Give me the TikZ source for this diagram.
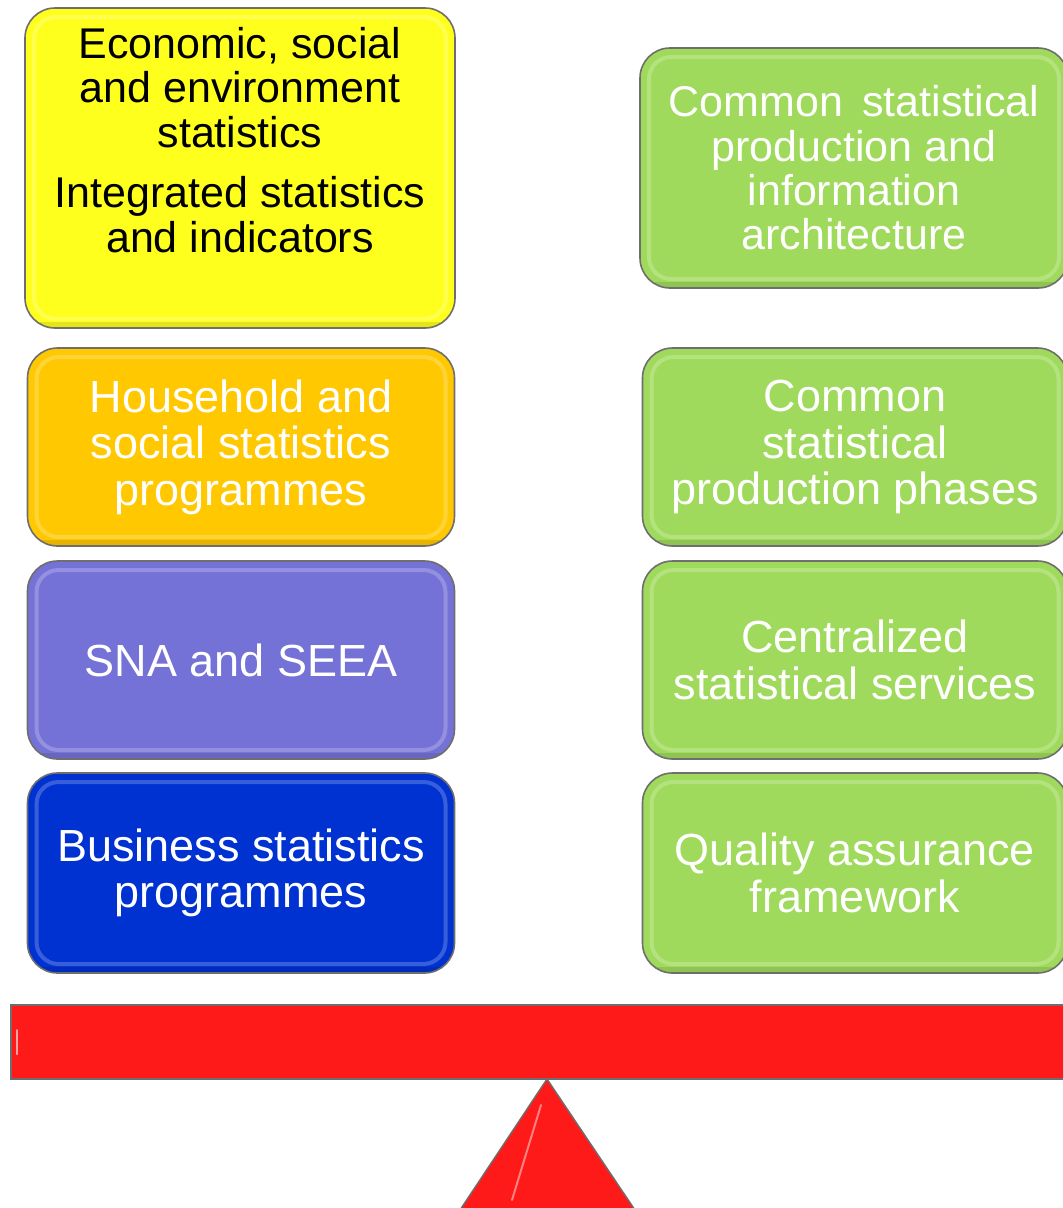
\documentclass[tikz,border=0pt]{standalone}
\usepackage{fontspec}
\setmainfont{Liberation Sans}
\definecolor{cyellow}{RGB}{255,255,30}
\definecolor{corange}{RGB}{255,200,0}
\definecolor{cpurple}{RGB}{116,114,214}
\definecolor{cblue}{RGB}{0,50,210}
\definecolor{cgreen}{RGB}{160,218,92}
\definecolor{cred}{RGB}{255,26,26}
\definecolor{cedge}{RGB}{110,110,110}
\tikzset{
  bevel/.style={path picture={
      \draw[white, opacity=0.22, line width=4pt, rounded corners=22pt]
        ([shift={(9pt,-9pt)}]path picture bounding box.north west) rectangle
        ([shift={(-9pt,9pt)}]path picture bounding box.south east);
      \draw[black, opacity=0.10, line width=5pt]
        ([shift={(0pt,4pt)}]path picture bounding box.south west) --
        ([shift={(0pt,4pt)}]path picture bounding box.south east);
  }},
  blockbox/.style={rectangle, rounded corners=30pt, draw=cedge, line width=1.6pt,
    align=center, inner sep=0pt, bevel,
    font=\fontsize{45}{46.5}\selectfont},
  lefttile/.style={blockbox, minimum width=427pt, minimum height=198pt},
  righttile/.style={blockbox, fill=cgreen, text=white, minimum width=425pt, minimum height=198pt},
  smalltext/.style={font=\fontsize{43}{44.4}\selectfont},
  bigtext/.style={align=center, inner sep=0pt, smalltext}
}
\begin{document}
\begin{tikzpicture}[x=1pt,y=-1pt]
\useasboundingbox (0,0) rectangle (1063,1208);
\fill[white] (0,0) rectangle (1063,1208);

% left column
\node[blockbox, fill=cyellow, minimum width=430pt, minimum height=320pt] (yel) at (240,168) {};
\node[bigtext, text=black] (yeltext) at (240,140)
  {Economic, social\\and environment\\statistics\\[16pt]Integrated statistics\\and indicators};
\node[lefttile, fill=corange, text=white] (hh) at (241,447)
  {Household and\\social statistics\\programmes};
\node[lefttile, fill=cpurple, text=white] (sna) at (241,660) {SNA and SEEA};
\node[lefttile, fill=cblue, text=white, minimum height=200pt] (bus) at (241,873)
  {Business statistics\\programmes};

% right column
\node[righttile, smalltext, minimum width=428pt, minimum height=240pt] (arch) at (854,168)
  {Common\ \,statistical\\production and\\information\\architecture};
\node[righttile] (phases) at (855,447)
  {Common\\statistical\\production phases};
\node[righttile] (serv) at (855,660)
  {Centralized\\statistical services};
\node[righttile, minimum height=200pt] (qaf) at (855,873)
  {Quality assurance\\framework};

% balance beam
\node[rectangle, fill=cred, draw=cedge, line width=1.6pt, minimum width=1070pt,
      minimum height=74pt, inner sep=0pt, anchor=west] (beam) at (10,1042) {};
\draw[white, opacity=0.6, line width=2pt, line cap=round] (beam.west) ++(7pt,-12pt) -- ++(0pt,24pt);

% fulcrum
\coordinate (apex) at (547,1079);
\coordinate (bl) at (460,1210);
\coordinate (br) at (635,1210);
\draw[fill=cred, draw=cedge, line width=1.4pt, line join=round] (apex) -- (br) -- (bl) -- cycle;
\draw[white, opacity=0.45, line width=2pt, line cap=round] (541,1105) -- (512,1200);
\end{tikzpicture}
\end{document}
